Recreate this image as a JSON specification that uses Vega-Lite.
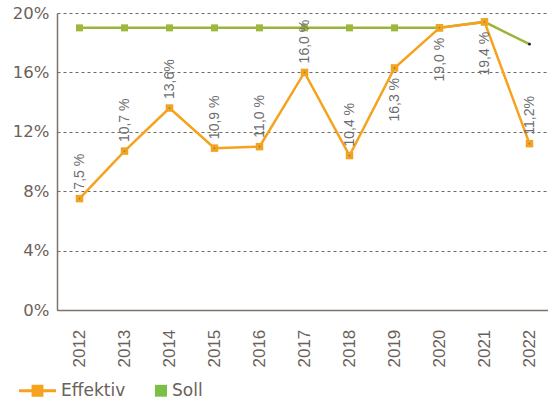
{
  "$schema": "https://vega.github.io/schema/vega-lite/v6.json",
  "width": 495,
  "height": 297,
  "autosize": {"type": "none"},
  "padding": {"left": 57, "top": 13, "right": 0, "bottom": 91},
  "background": "white",
  "config": {
    "font": "DejaVu Sans",
    "view": {"stroke": null}
  },
  "data": {
    "values": [
      {"year": "2012", "series": "Effektiv", "value": 7.5, "label": "7,5 %"},
      {"year": "2013", "series": "Effektiv", "value": 10.7, "label": "10,7 %"},
      {"year": "2014", "series": "Effektiv", "value": 13.6, "label": "13,6%"},
      {"year": "2015", "series": "Effektiv", "value": 10.9, "label": "10,9 %"},
      {"year": "2016", "series": "Effektiv", "value": 11.0, "label": "11,0 %"},
      {"year": "2017", "series": "Effektiv", "value": 16.0, "label": "16,0 %"},
      {"year": "2018", "series": "Effektiv", "value": 10.4, "label": "10,4 %"},
      {"year": "2019", "series": "Effektiv", "value": 16.3, "label": "16,3 %"},
      {"year": "2020", "series": "Effektiv", "value": 19.0, "label": "19,0 %"},
      {"year": "2021", "series": "Effektiv", "value": 19.4, "label": "19,4 %"},
      {"year": "2022", "series": "Effektiv", "value": 11.2, "label": "11,2%"},
      {"year": "2012", "series": "Soll", "value": 19.0},
      {"year": "2013", "series": "Soll", "value": 19.0},
      {"year": "2014", "series": "Soll", "value": 19.0},
      {"year": "2015", "series": "Soll", "value": 19.0},
      {"year": "2016", "series": "Soll", "value": 19.0},
      {"year": "2017", "series": "Soll", "value": 19.0},
      {"year": "2018", "series": "Soll", "value": 19.0},
      {"year": "2019", "series": "Soll", "value": 19.0},
      {"year": "2020", "series": "Soll", "value": 19.0},
      {"year": "2021", "series": "Soll", "value": 19.4},
      {"year": "2022", "series": "Soll", "value": 17.9}
    ]
  },
  "encoding": {
    "x": {
      "field": "year", "type": "ordinal",
      "scale": {"type": "point", "padding": 0.5},
      "axis": {
        "title": null, "labelAngle": 270, "labelAlign": "left", "labelBaseline": "middle",
        "labelPadding": 57, "ticks": false, "labelFont": "Liberation Sans", "labelFontSize": 17, "labelColor": "#6b6159",
        "domainColor": "#7d736a", "domainWidth": 1.5, "grid": false
      }
    },
    "y": {
      "field": "value", "type": "quantitative",
      "scale": {"domain": [0, 20], "nice": false},
      "axis": {
        "title": null, "values": [0, 4, 8, 12, 16, 20], "labelExpr": "datum.value + '%'",
        "ticks": false, "labelPadding": 8, "labelFontSize": 16.5, "labelColor": "#6b6159",
        "domainColor": "#7d736a", "domainWidth": 1.5,
        "grid": true, "gridColor": "#6f6a66", "gridDash": [3, 3], "gridWidth": 1
      }
    }
  },
  "layer": [
    {
      "transform": [{"filter": "datum.series == 'Soll'"}],
      "mark": {"type": "line", "color": "#9bb53a", "strokeWidth": 2.5}
    },
    {
      "transform": [{"filter": "datum.series == 'Soll' && datum.year != '2022'"}],
      "mark": {"type": "point", "shape": "square", "filled": true, "color": "#9fb83c", "size": 49, "opacity": 1}
    },
    {
      "transform": [{"filter": "datum.series == 'Soll' && datum.year == '2022'"}],
      "mark": {"type": "point", "shape": "circle", "filled": true, "color": "#222222", "size": 8, "opacity": 1}
    },
    {
      "transform": [{"filter": "datum.series == 'Effektiv'"}],
      "mark": {"type": "line", "color": "#f6a21e", "strokeWidth": 2.5}
    },
    {
      "transform": [{"filter": "datum.series == 'Effektiv'"}],
      "mark": {"type": "point", "shape": "square", "filled": true, "color": "#f6a21e", "size": 56, "opacity": 1}
    },
    {
      "transform": [{"filter": "datum.series == 'Effektiv'"}],
      "mark": {"type": "point", "shape": "square", "filled": true, "color": "#2a9d8f", "size": 2, "opacity": 1}
    },
    {
      "transform": [{"filter": "datum.series == 'Effektiv' && datum.year != '2019' && datum.year != '2020' && datum.year != '2021'"}],
      "mark": {"type": "text", "font": "Liberation Sans", "angle": 270, "align": "left", "baseline": "middle", "dx": 9, "fontSize": 14, "color": "#6d6e71"},
      "encoding": {"text": {"field": "label"}}
    },
    {
      "transform": [{"filter": "datum.series == 'Effektiv' && (datum.year == '2019' || datum.year == '2020' || datum.year == '2021')"}],
      "mark": {"type": "text", "font": "Liberation Sans", "angle": 270, "align": "right", "baseline": "middle", "dx": -10, "fontSize": 14, "color": "#6d6e71"},
      "encoding": {"text": {"field": "label"}}
    },
    {
      "mark": {"type": "point", "filled": true, "opacity": 0},
      "encoding": {
        "color": {
          "field": "series", "type": "nominal",
          "scale": {"domain": ["Effektiv", "Soll"], "range": ["#f6a21e", "#7bbf44"]},
          "legend": {
            "title": null, "orient": "none", "direction": "horizontal",
            "legendX": -38, "legendY": 359, "symbolSize": 1369, "symbolOpacity": 1,
            "symbolStrokeWidth": 0, "labelFontSize": 17, "labelColor": "#6b6159",
            "labelOffset": 5, "columnPadding": 4
          }
        },
        "shape": {
          "field": "series", "type": "nominal",
          "scale": {"domain": ["Effektiv", "Soll"], "range": ["M-1,-0.08H1V0.08H-1Z M-0.32,-0.32H0.32V0.32H-0.32Z", "M0.35,-0.32H1V0.32H0.35Z"]},
          "legend": null
        }
      }
    }
  ]
}
